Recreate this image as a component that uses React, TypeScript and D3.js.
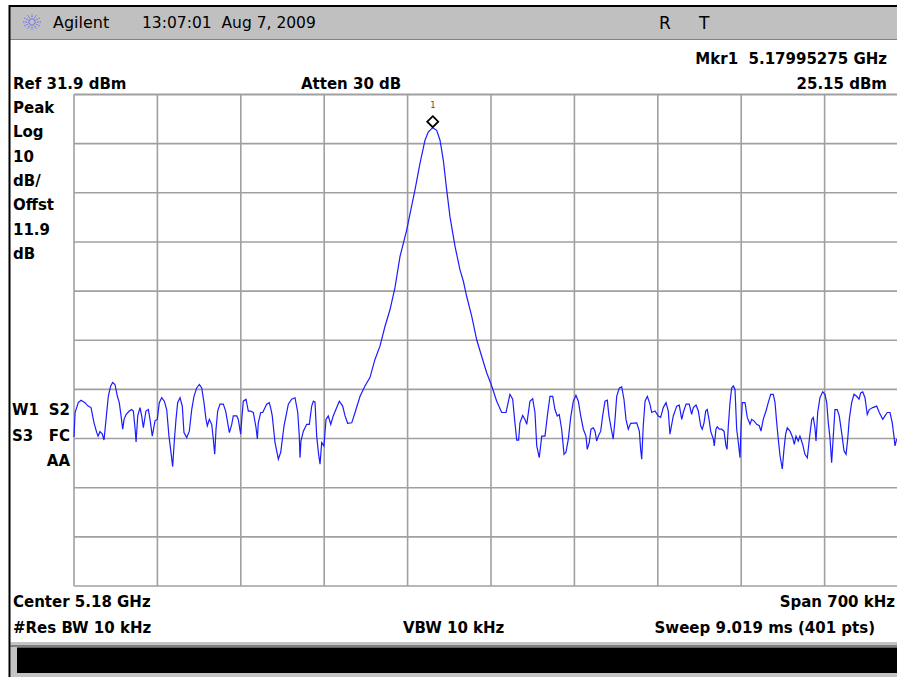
import React from 'react';
import * as d3 from 'd3';

const W = 897;
const H = 677;

const refLevelDbm = 31.9;
const dbPerDiv = 10;
const divisions = 10;
const spanKHz = 700;

const leftLabels = ['Peak', 'Log', '10', 'dB/', 'Offst', '11.9', 'dB'];
const statusLabels = [['W1', 'S2'], ['S3', 'FC'], ['', 'AA']];

// trace: [offset from 5.18 GHz in kHz, level in dBm]
const trace: [number, number][] = [
  [-350.0, -37.8], [-349.1, -32.8], [-346.4, -30.8], [-344.1, -30.3], [-340.8, -30.8], [-338.2, -31.5],
  [-335.7, -31.8], [-333.2, -34.9], [-330.9, -36.9], [-329.8, -37.6], [-328.2, -36.7], [-326.2, -37.2],
  [-324.8, -38.4], [-323.1, -34.2], [-321.2, -29.5], [-319.2, -27.4], [-317.5, -26.7], [-315.6, -27.1],
  [-313.6, -29.5], [-312.0, -30.8], [-310.5, -33.5], [-309.1, -36.2], [-308.0, -34.2], [-306.3, -33.2],
  [-303.6, -32.5], [-301.6, -32.2], [-300.2, -32.5], [-298.8, -35.9], [-297.9, -38.8], [-296.5, -33.5],
  [-294.6, -31.8], [-293.2, -33.5], [-291.8, -35.9], [-289.6, -32.5], [-287.6, -32.2], [-286.2, -34.2],
  [-284.3, -37.6], [-282.0, -34.5], [-280.1, -34.2], [-278.4, -30.8], [-276.4, -29.8], [-274.2, -30.5],
  [-272.2, -32.2], [-270.3, -37.6], [-268.6, -40.9], [-267.2, -43.8], [-265.8, -38.6], [-264.4, -34.2],
  [-263.0, -30.8], [-261.0, -29.8], [-259.1, -31.5], [-257.7, -36.9], [-255.4, -37.9], [-253.2, -36.6],
  [-251.2, -32.2], [-249.3, -29.5], [-247.0, -27.8], [-244.8, -27.1], [-242.8, -27.8], [-240.9, -30.8],
  [-239.2, -34.2], [-238.1, -35.5], [-236.4, -34.2], [-234.4, -35.2], [-233.1, -38.2], [-231.9, -41.3],
  [-230.8, -36.2], [-229.4, -32.5], [-227.5, -31.1], [-224.7, -31.1], [-222.7, -32.5], [-219.6, -36.9],
  [-217.6, -35.2], [-216.3, -33.5], [-213.4, -33.5], [-212.1, -34.2], [-210.1, -37.2], [-209.2, -34.2],
  [-207.9, -30.5], [-205.6, -30.1], [-203.7, -32.5], [-201.7, -32.5], [-199.5, -32.8], [-197.2, -35.9],
  [-196.1, -38.2], [-195.3, -34.9], [-193.3, -32.8], [-191.6, -32.8], [-188.3, -31.1], [-186.1, -30.8],
  [-184.6, -32.2], [-183.6, -33.5], [-181.3, -38.9], [-178.5, -42.3], [-176.5, -40.9], [-173.7, -35.5],
  [-170.1, -31.1], [-167.3, -30.1], [-164.5, -29.8], [-162.2, -32.8], [-160.9, -37.6], [-160.3, -42.0],
  [-159.5, -38.6], [-157.5, -36.6], [-154.7, -35.2], [-152.5, -35.2], [-150.5, -31.5], [-149.1, -30.5],
  [-147.7, -30.7], [-146.3, -37.6], [-144.9, -40.9], [-143.5, -43.3], [-142.1, -38.9], [-140.2, -39.6],
  [-138.5, -34.2], [-136.6, -33.5], [-134.5, -35.2], [-132.4, -33.5], [-129.5, -31.8], [-127.3, -30.5],
  [-124.5, -31.5], [-122.5, -33.5], [-120.3, -35.0], [-116.9, -34.9], [-114.1, -32.8], [-109.9, -29.5],
  [-105.8, -27.4], [-101.6, -25.7], [-97.4, -22.0], [-93.2, -19.3], [-89.0, -15.3], [-84.8, -11.9],
  [-80.6, -7.4], [-76.4, -1.1], [-70.8, 4.3], [-63.8, 12.5], [-59.6, 17.9], [-55.4, 22.6],
  [-52.6, 24.3], [-48.9, 25.15], [-45.6, 24.6], [-42.8, 22.6], [-40.0, 18.5], [-37.2, 12.5],
  [-34.4, 7.0], [-30.2, 1.0], [-26.0, -3.8], [-23.2, -6.1], [-20.4, -9.2], [-16.2, -13.2],
  [-12.0, -18.0], [-7.8, -21.4], [-3.6, -24.7], [0.6, -27.4], [4.8, -30.5], [9.0, -32.8],
  [12.6, -32.8], [15.9, -29.1], [18.2, -30.1], [20.1, -34.9], [21.6, -38.4], [23.2, -38.4],
  [24.3, -34.9], [26.6, -33.4], [28.5, -34.2], [30.0, -35.2], [32.7, -30.5], [35.0, -30.0],
  [36.9, -32.8], [38.4, -39.6], [40.5, -42.0], [42.6, -37.6], [45.3, -37.6], [47.3, -33.5],
  [49.5, -29.5], [51.8, -29.5], [53.7, -32.2], [55.6, -33.5], [57.3, -33.2], [59.3, -36.2],
  [61.3, -41.3], [62.9, -40.9], [64.9, -38.2], [66.9, -33.8], [69.1, -30.5], [71.3, -29.3],
  [73.3, -30.5], [75.3, -33.5], [77.5, -36.2], [79.7, -37.6], [80.8, -40.3], [82.5, -38.9],
  [83.9, -36.2], [85.9, -35.9], [87.3, -36.6], [88.7, -38.6], [90.1, -37.6], [92.1, -36.6],
  [93.7, -33.5], [95.7, -30.5], [97.6, -30.3], [99.0, -33.5], [101.3, -36.6], [102.6, -38.2],
  [104.1, -34.2], [105.5, -29.5], [107.7, -27.8], [109.7, -27.6], [111.6, -30.1], [113.3, -34.2],
  [115.2, -36.2], [117.2, -35.0], [122.3, -34.9], [124.5, -36.6], [125.6, -40.3], [126.5, -42.3],
  [127.8, -35.5], [129.3, -30.5], [131.2, -29.5], [133.4, -31.1], [134.9, -32.8], [137.6, -32.5],
  [140.4, -33.5], [142.4, -33.8], [144.6, -31.8], [146.9, -30.8], [148.8, -32.5], [150.2, -37.2],
  [151.7, -35.2], [153.0, -33.5], [155.9, -31.5], [158.0, -31.3], [160.1, -34.2], [161.4, -32.8],
  [163.7, -31.1], [166.4, -31.1], [168.4, -33.2], [169.8, -31.8], [172.1, -31.3], [174.0, -32.5],
  [176.0, -35.5], [177.3, -36.2], [178.8, -34.9], [180.2, -32.5], [181.5, -32.2], [183.0, -34.2],
  [184.4, -36.6], [186.6, -38.2], [187.4, -39.6], [188.8, -36.2], [189.9, -35.7], [191.6, -36.2],
  [193.6, -36.2], [195.6, -36.6], [197.2, -39.6], [198.1, -40.3], [199.2, -35.5], [200.6, -30.8],
  [202.0, -27.8], [203.4, -27.4], [204.8, -28.1], [206.2, -36.2], [207.6, -38.9], [209.0, -42.0],
  [209.8, -36.2], [210.9, -30.8], [213.2, -30.8], [215.1, -33.8], [217.4, -35.2], [218.8, -34.2],
  [220.7, -34.5], [223.0, -35.2], [225.2, -35.5], [226.6, -36.6], [228.5, -34.2], [230.8, -32.5],
  [232.7, -30.8], [234.8, -29.1], [236.9, -29.1], [238.4, -30.8], [239.8, -34.9], [241.1, -38.2],
  [242.6, -41.6], [244.5, -44.3], [245.9, -40.3], [247.3, -37.2], [248.7, -35.9], [251.0, -36.6],
  [253.2, -37.9], [254.6, -39.3], [256.0, -37.6], [257.9, -38.6], [259.3, -37.6], [261.6, -39.3],
  [263.5, -41.3], [265.5, -42.0], [267.2, -38.2], [269.2, -34.2], [270.5, -33.8], [271.9, -35.9],
  [272.8, -38.6], [274.2, -32.8], [276.1, -29.8], [278.4, -28.6], [280.3, -29.1], [281.8, -30.8],
  [283.1, -34.9], [284.5, -37.9], [285.9, -43.0], [287.3, -37.6], [288.7, -32.2], [290.6, -32.2],
  [292.3, -33.5], [294.3, -36.9], [296.3, -40.6], [298.0, -41.3], [299.4, -38.2], [300.7, -34.2],
  [302.7, -30.8], [304.7, -29.1], [306.9, -29.5], [308.9, -30.1], [310.3, -28.8], [312.0, -28.6],
  [313.9, -29.8], [315.8, -33.2], [317.5, -32.2], [320.4, -31.8], [323.7, -31.5], [325.9, -32.8],
  [328.8, -34.2], [330.7, -33.5], [332.6, -32.8], [334.9, -32.8], [336.8, -34.9], [338.2, -37.6],
  [339.1, -39.6], [340.5, -38.2],
];

const FONT = "'DejaVu Sans', Verdana, sans-serif";

export default function App() {
  const x = d3.scaleLinear().domain([-spanKHz / 2, spanKHz / 2]).range([74, 908]);
  const y = d3
    .scaleLinear()
    .domain([refLevelDbm - dbPerDiv * divisions, refLevelDbm])
    .range([586, 94.5]);

  const xTicks = d3.range(0, divisions + 1).map((i) => -spanKHz / 2 + (i * spanKHz) / divisions);
  const yTicks = d3.range(0, divisions + 1).map((j) => refLevelDbm - j * dbPerDiv);

  const line = d3
    .line<[number, number]>()
    .x((d) => x(d[0]))
    .y((d) => y(d[1]));

  const peakIdx = d3.maxIndex(trace, (d) => d[1]);
  const peak = trace[peakIdx];
  const mx = x(peak[0]);
  const my = y(peak[1]) - 6;

  const infoStyle: React.CSSProperties = {
    fontFamily: FONT,
    fontWeight: 'bold',
    fontSize: 15,
    fill: '#000',
  };

  const rays = d3.range(0, 12).map((i) => (i * Math.PI) / 6);

  return (
    <svg
      width={W}
      height={H}
      style={{ position: 'absolute', left: 0, top: 0, background: '#fff' }}
    >
      <rect x={0} y={0} width={W} height={H} fill="#fff" />
      {/* title bar */}
      <rect x={10} y={6} width={W - 10} height={34} fill="#c0c0c0" />
      <line x1={9} x2={W} y1={6} y2={6} stroke="#000" strokeWidth={2} />
      <line x1={10} x2={W} y1={39.5} y2={39.5} stroke="#808080" strokeWidth={1.2} />
      <g transform="translate(32,22)">
        {rays.map((a, i) => (
          <line
            key={i}
            x1={Math.cos(a) * 2.5}
            y1={Math.sin(a) * 2.5}
            x2={Math.cos(a) * 9}
            y2={Math.sin(a) * 8}
            stroke="#5a5aff"
            strokeWidth={1}
            strokeDasharray="1.5,1"
          />
        ))}
      </g>
      <text x={53} y={28} style={{ fontFamily: FONT, fontSize: 16, fill: '#000' }}>
        Agilent
      </text>
      <text x={142} y={28} style={{ fontFamily: FONT, fontSize: 15.5, fill: '#000' }} xmlSpace="preserve">
        13:07:01  Aug 7, 2009
      </text>
      <text x={659} y={29} style={{ fontFamily: FONT, fontSize: 17, fill: '#000' }}>
        R
      </text>
      <text x={699} y={29} style={{ fontFamily: FONT, fontSize: 17, fill: '#000' }}>
        T
      </text>

      {/* header info */}
      <text x={887} y={64} textAnchor="end" style={infoStyle} xmlSpace="preserve">
        Mkr1  5.17995275 GHz
      </text>
      <text x={887} y={89} textAnchor="end" style={infoStyle}>
        25.15 dBm
      </text>
      <text x={13} y={89} style={infoStyle}>
        Ref 31.9 dBm
      </text>
      <text x={301} y={89} style={infoStyle}>
        Atten 30 dB
      </text>

      {leftLabels.map((t, i) => (
        <text key={t + i} x={13} y={113 + i * 24.3} style={infoStyle}>
          {t}
        </text>
      ))}
      {statusLabels.map((row, i) => (
        <g key={i}>
          {row[0] && (
            <text x={12} y={415 + i * 25.5} style={infoStyle}>
              {row[0]}
            </text>
          )}
          <text x={70} y={415 + i * 25.5} textAnchor="end" style={infoStyle}>
            {row[1]}
          </text>
        </g>
      ))}

      {/* graticule */}
      <g>
        {yTicks.map((v, j) => (
          <line
            key={'h' + j}
            x1={x(-spanKHz / 2)}
            x2={x(spanKHz / 2)}
            y1={y(v)}
            y2={y(v)}
            stroke="#a0a0a0"
            strokeWidth={j === 0 ? 2.2 : 1.6}
          />
        ))}
        {xTicks.map((v, i) => (
          <line
            key={'v' + i}
            x1={x(v)}
            x2={x(v)}
            y1={y(refLevelDbm)}
            y2={y(refLevelDbm - dbPerDiv * divisions)}
            stroke="#a0a0a0"
            strokeWidth={1.6}
          />
        ))}
      </g>

      {/* trace */}
      <path d={line(trace) ?? ''} fill="none" stroke="#1c1cff" strokeWidth={1.2} strokeLinejoin="miter" />

      {/* marker */}
      <path
        d={`M${mx},${my - 5.5} L${mx + 5.5},${my} L${mx},${my + 5.5} L${mx - 5.5},${my} Z`}
        fill="none"
        stroke="#000"
        strokeWidth={1.8}
      />
      <text x={mx} y={108} textAnchor="middle" style={{ fontFamily: "'DejaVu Sans Mono', monospace", fontSize: 9, fill: '#555' }}>
        1
      </text>

      {/* footer info */}
      <text x={13} y={607} style={infoStyle}>
        Center 5.18 GHz
      </text>
      <text x={895} y={607} textAnchor="end" style={infoStyle}>
        Span 700 kHz
      </text>
      <text x={13} y={633} style={infoStyle}>
        #Res BW 10 kHz
      </text>
      <text x={403} y={633} style={infoStyle}>
        VBW 10 kHz
      </text>
      <text x={875} y={633} textAnchor="end" style={infoStyle}>
        Sweep 9.019 ms (401 pts)
      </text>

      {/* bottom status area */}
      <rect x={10.5} y={642} width={W - 10} height={H - 642} fill="#c4c4c4" />
      <line x1={10.5} x2={W} y1={646} y2={646} stroke="#808080" strokeWidth={2} />
      <rect x={17} y={647.5} width={W - 17} height={25.5} fill="#000" />
      <line x1={9.5} x2={9.5} y1={5} y2={H} stroke="#000" strokeWidth={2} />
    </svg>
  );
}
